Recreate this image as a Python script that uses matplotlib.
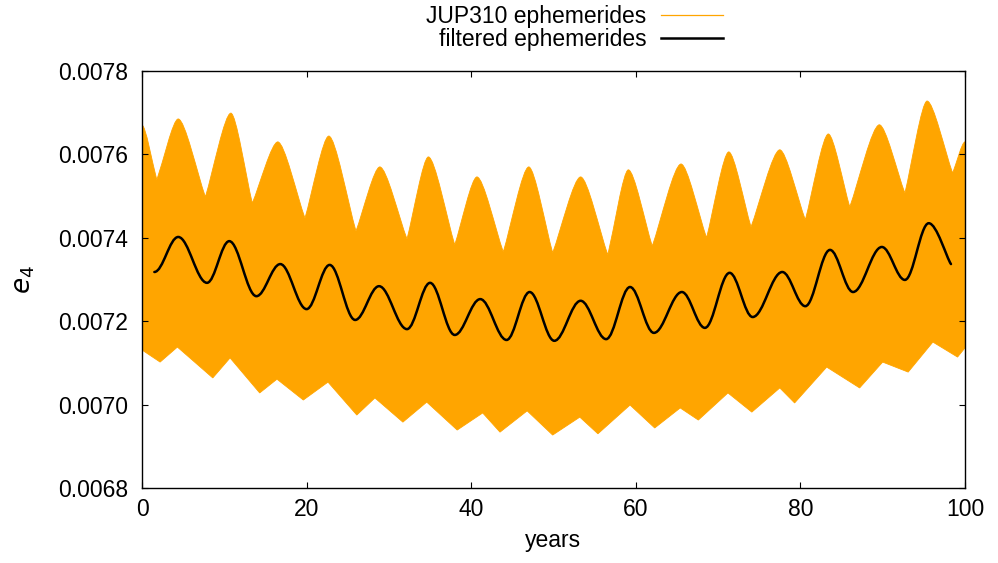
import numpy as np
import matplotlib
matplotlib.use("Agg")
import matplotlib.pyplot as plt
from matplotlib.path import Path
from matplotlib.patches import PathPatch
from matplotlib.lines import Line2D

plt.rcParams['font.family'] = ['Liberation Sans', 'DejaVu Sans']

# upper edge of the raw (JUP310) band: peaks and troughs of the envelope
up_years = [0, 1.8, 4.4, 7.7, 10.8, 13.4, 16.5, 19.8, 22.7, 26.0, 28.9, 32.2, 34.8, 38.0,
            40.7, 43.9, 47.0, 49.9, 53.3, 56.6, 59.1, 62.0, 65.5, 68.6, 71.3, 74.0, 77.5,
            80.6, 83.4, 86.0, 89.6, 92.7, 95.4, 98.5, 100]
up_e4 = [0.007670, 0.007539, 0.007685, 0.007498, 0.007699, 0.007483, 0.007630, 0.007447,
         0.007644, 0.007416, 0.007570, 0.007397, 0.007594, 0.007383, 0.007546, 0.007366,
         0.007570, 0.007364, 0.007546, 0.007359, 0.007563, 0.007380, 0.007577, 0.007400,
         0.007606, 0.007426, 0.007611, 0.007443, 0.007649, 0.007474, 0.007671, 0.007507,
         0.007728, 0.007555, 0.007630]

# lower edge of the raw band
lo_years = [0, 2.2, 4.3, 8.6, 10.7, 14.3, 16.4, 19.6, 22.6, 26.1, 28.3, 31.7, 34.6, 38.3,
            41.4, 43.5, 46.8, 49.9, 53.2, 55.4, 59.3, 62.3, 65.4, 67.6, 71.2, 74.1, 77.5,
            79.3, 83.2, 87.2, 90.0, 93.1, 96.1, 99.1, 100]
lo_e4 = [0.007131, 0.007102, 0.007138, 0.007064, 0.007112, 0.007028, 0.007061, 0.007011,
         0.007054, 0.006975, 0.007016, 0.006958, 0.007006, 0.006939, 0.006980, 0.006934,
         0.006985, 0.006927, 0.006970, 0.006930, 0.006999, 0.006944, 0.006992, 0.006963,
         0.007028, 0.006982, 0.007040, 0.007004, 0.007090, 0.007040, 0.007102, 0.007078,
         0.007150, 0.007114, 0.007136]

# filtered curve: start, alternating extrema, end
filt_years = [1.5, 4.4, 7.9, 10.6, 13.9, 16.8, 20.0, 22.8, 25.9, 28.8, 32.2, 35.0, 38.0,
              41.1, 44.3, 47.1, 50.1, 53.3, 56.4, 59.3, 62.2, 65.6, 68.4, 71.4, 74.2, 77.8,
              80.6, 83.6, 86.4, 89.9, 92.7, 95.6, 98.3]
filt_e4 = [0.007318, 0.007402, 0.007292, 0.007392, 0.007260, 0.007337, 0.007229, 0.007335,
           0.007203, 0.007284, 0.007181, 0.007292, 0.007167, 0.007253, 0.007155, 0.007270,
           0.007153, 0.007249, 0.007157, 0.007282, 0.007172, 0.007270, 0.007184, 0.007316,
           0.007210, 0.007318, 0.007236, 0.007371, 0.007270, 0.007378, 0.007299, 0.007435,
           0.007337]

orange = '#ffa500'

fig = plt.figure(figsize=(9.98, 5.63), dpi=100)
ax = fig.add_axes([0.1423, 0.1332, 0.8246, 0.7407])

# raw band: upper edge with rounded humps and sharp dips, lower edge straight
verts = [(up_years[0], up_e4[0])]
codes = [Path.MOVETO]
for i in range(len(up_years) - 1):
    x0, y0 = up_years[i], up_e4[i]
    x1, y1 = up_years[i + 1], up_e4[i + 1]
    dx, dy = x1 - x0, y1 - y0
    if y1 > y0:   # dip -> hump
        c1 = (x0 + 0.3 * dx, y0 + 0.3 * dy)
        c2 = (x1 - 0.25 * dx, y1)
    else:         # hump -> dip
        c1 = (x0 + 0.25 * dx, y0)
        c2 = (x1 - 0.3 * dx, y1 - 0.3 * dy)
    verts += [c1, c2, (x1, y1)]
    codes += [Path.CURVE4] * 3
for x, y in zip(lo_years[::-1], lo_e4[::-1]):
    verts.append((x, y))
    codes.append(Path.LINETO)
verts.append(verts[0])
codes.append(Path.CLOSEPOLY)
ax.add_patch(PathPatch(Path(verts, codes), fc=orange, ec=orange, lw=0.6,
                       transform=ax.transData))

# filtered curve as smooth bezier segments through the extrema
verts = [(filt_years[0], filt_e4[0])]
codes = [Path.MOVETO]
k = 0.36
n = len(filt_years)
for i in range(n - 1):
    x0, y0 = filt_years[i], filt_e4[i]
    x1, y1 = filt_years[i + 1], filt_e4[i + 1]
    dx = x1 - x0
    if i == n - 2:
        verts += [(x0 + k * dx, y0), (x1 - 0.2 * dx, y1 + 0.15 * (y0 - y1)), (x1, y1)]
    else:
        verts += [(x0 + k * dx, y0), (x1 - k * dx, y1), (x1, y1)]
    codes += [Path.CURVE4] * 3
ax.add_patch(PathPatch(Path(verts, codes), fill=False, ec='black', lw=1.8,
                       transform=ax.transData, capstyle='round', joinstyle='round'))

ax.set_xlim(0, 100)
ax.set_ylim(0.0068, 0.0078)
ax.set_xticks([0, 20, 40, 60, 80, 100])
ax.set_yticks([0.0068, 0.0070, 0.0072, 0.0074, 0.0076, 0.0078])
ax.set_yticklabels(['0.0068', '0.0070', '0.0072', '0.0074', '0.0076', '0.0078'])
ax.tick_params(direction='in', length=4.5, width=0.8, top=True, right=True,
               labelsize=16.5, colors='black')
ax.tick_params(axis='y', pad=10)
ax.tick_params(axis='x', pad=7)
for s in ax.spines.values():
    s.set_linewidth(1.0)
    s.set_zorder(5)

ax.set_xlabel('years', fontsize=16.5, labelpad=6)
ax.set_ylabel(r'$e_{\mathit{4}}$', fontsize=19, labelpad=15)

handles = [Line2D([], [], color=orange, lw=0.9), Line2D([], [], color='black', lw=1.8)]
fig.legend(handles, ['JUP310 ephemerides', 'filtered ephemerides'],
           loc='upper center', bbox_to_anchor=(0.576, 1.019), frameon=False,
           markerfirst=False, fontsize=16.5, handlelength=2.7, handletextpad=0.65,
           labelspacing=0.0, borderpad=0.2)

fig.savefig('out.png', dpi=100)
